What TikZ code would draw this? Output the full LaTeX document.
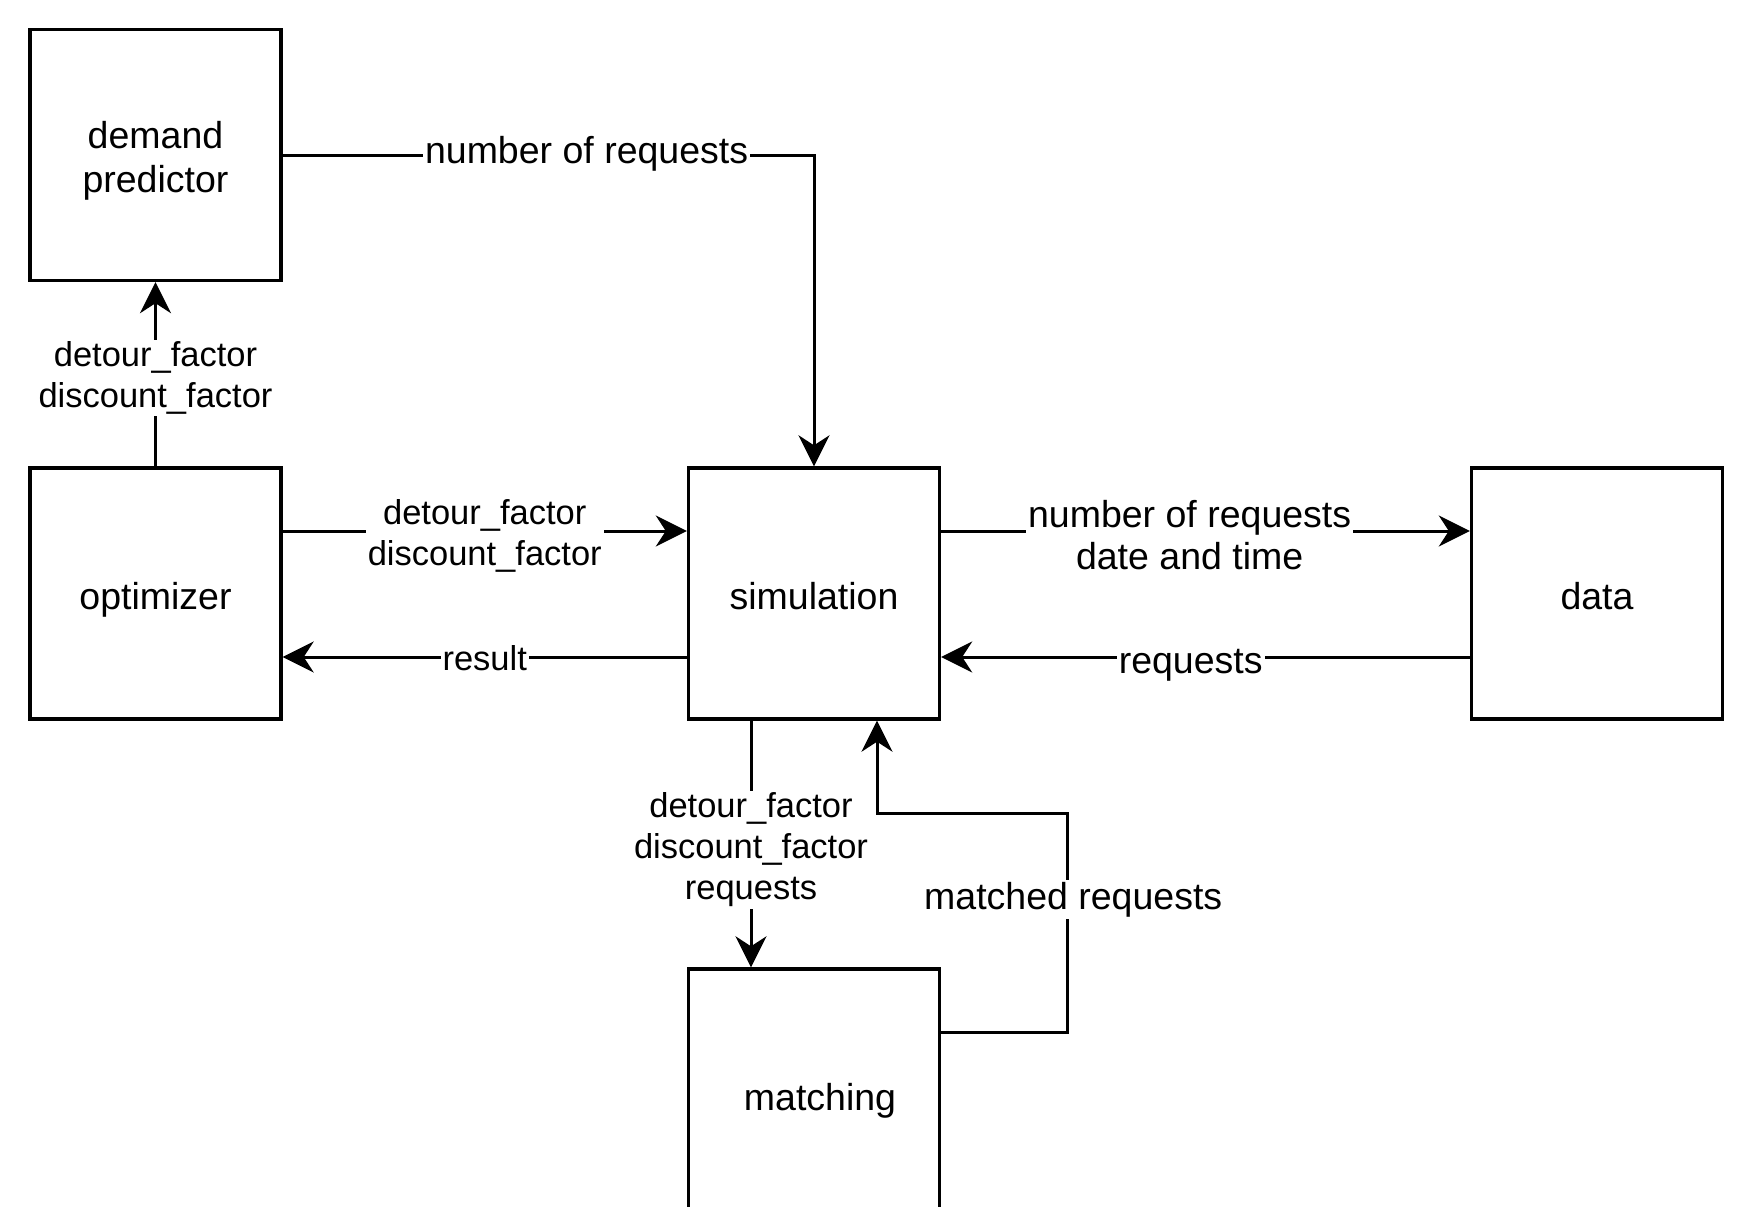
\documentclass[tikz,border=0pt]{standalone}
\usepackage{fontspec}
\setmainfont{Liberation Sans}
\usetikzlibrary{arrows.meta}
\newcommand\bxt[1]{\raisebox{0pt}[31pt][0pt]{#1}}
\begin{document}
\begin{tikzpicture}[x=1pt,y=-1pt,
  box/.style={draw, line width=3.4pt, minimum width=251pt, minimum height=251pt, inner sep=0pt, align=center, font=\fontsize{37.5}{43.5}\selectfont},
  conn/.style={line width=3pt, -{Stealth[length=31pt,width=31pt,inset=10pt]}},
  big/.style={fill=white, inner sep=2pt, align=center, font=\fontsize{37.5}{42.5}\selectfont},
  small/.style={fill=white, inner sep=2pt, align=center, font=\fontsize{34.5}{41}\selectfont}]
\useasboundingbox (0,0) rectangle (1748,1207);
\node[box] (dp) at (155.5,155) {\bxt{demand}\\\bxt{predictor}};
\node[box] (opt) at (155.5,593.5) {\bxt{optimizer}};
\node[box] (sim) at (814,593.5) {\bxt{simulation}};
\node[box] (data) at (1597,593.5) {\bxt{data}};
\node[box] (match) at (814,1094.5) {\bxt{\hspace*{12pt}matching}};

\draw[conn] (dp.east) -| node[big, pos=0.286, yshift=1pt, inner ysep=0pt] {number of requests} (sim.north);
\draw[conn] (opt.north) -- node[small, pos=0.48] {detour\_factor\\discount\_factor} (dp.south);
\draw[conn] ([yshift=62.5pt]opt.east) -- node[small, pos=0.5, yshift=-4.5pt] {detour\_factor\\discount\_factor} ([yshift=62.5pt]sim.west);
\draw[conn] ([yshift=-63.5pt]sim.west) -- node[small, pos=0.5, yshift=-1pt, inner ysep=0pt] {result} ([yshift=-63.5pt]opt.east);
\draw[conn] ([yshift=62.5pt]sim.east) -- node[big, pos=0.47, yshift=-4pt] {number of requests\\date and time} ([yshift=62.5pt]data.west);
\draw[conn] ([yshift=-63.5pt]data.west) -- node[big, pos=0.528, yshift=-8pt, inner ysep=0pt] {requests} ([yshift=-63.5pt]sim.east);
\draw[conn] ([xshift=-63pt]sim.south) -- node[small, pos=0.516, yshift=-2pt] {detour\_factor\\discount\_factor\\requests} ([xshift=-63pt]match.north);
\draw[conn] ([yshift=62.5pt]match.east) -- ++(126,0) -- node[big, pos=0.605, xshift=6pt, inner xsep=0pt] {matched requests} ++(0,-219) -| ([xshift=63pt]sim.south);
\end{tikzpicture}
\end{document}
